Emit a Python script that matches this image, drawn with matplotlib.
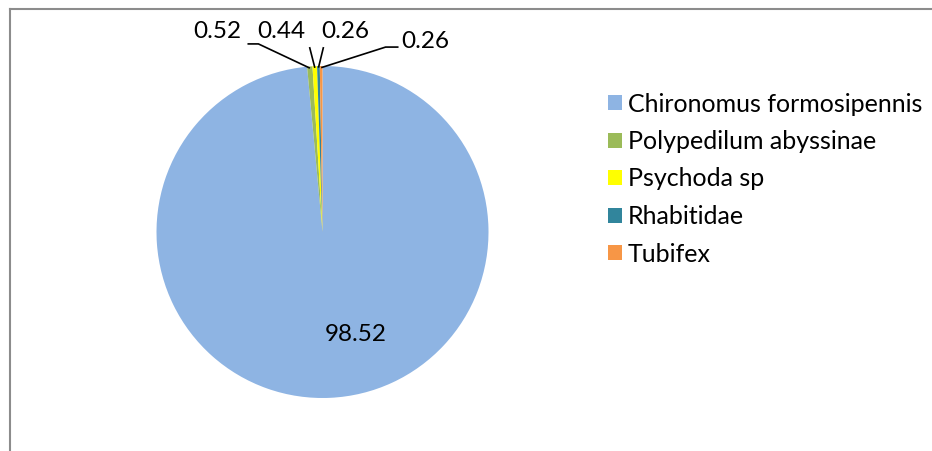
import matplotlib
matplotlib.use("Agg")
import matplotlib.pyplot as plt
import numpy as np
from matplotlib.lines import Line2D

categories = ["Chironomus formosipennis", "Polypedilum abyssinae", "Psychoda sp", "Rhabitidae", "Tubifex"]
values = [98.52, 0.52, 0.44, 0.26, 0.26]
value_labels = ["98.52", "0.52", "0.44", "0.26", "0.26"]
colors = ["#8EB4E3", "#9BBB59", "#FFFF00", "#31859C", "#F79646"]

plt.rcParams['font.family'] = ['Lato', 'DejaVu Sans']
FS = 17.5
LFS = 18

W, H = 932, 451
fig = plt.figure(figsize=(W / 100, H / 100), dpi=100)
fig.patch.set_facecolor("white")

cx, cy, r = 322.5, 232, 166
ax = fig.add_axes([(cx - r) / W, (H - cy - r) / H, 2 * r / W, 2 * r / H])
wedges, _ = ax.pie(values, colors=colors, startangle=90, counterclock=False,
                   radius=1.0, wedgeprops=dict(linewidth=0))
ax.set_xlim(-1, 1)
ax.set_ylim(-1, 1)
ax.set_aspect("equal")
ax.axis("off")

# label text positions (in pie units) and leader line bend points
text_pos = [(0.20, -0.62), (-0.633, 1.205), (-0.247, 1.205), (0.139, 1.205), (0.62, 1.145)]
leader_pts = [None,
              [(-0.452, 1.133), (-0.386, 1.133)],
              [(-0.078, 1.114)],
              [(0.006, 1.114)],
              [(0.458, 1.114), (0.380, 1.114)]]

for i, w in enumerate(wedges):
    ax.text(text_pos[i][0], text_pos[i][1], value_labels[i], ha="center", va="center",
            fontsize=FS, color="black", clip_on=False)
    if leader_pts[i] is not None:
        mid = np.deg2rad((w.theta1 + w.theta2) / 2)
        ex, ey = np.cos(mid) * 0.99, np.sin(mid) * 0.99
        pts = leader_pts[i] + [(ex, ey)]
        xs = [p[0] for p in pts]
        ys = [p[1] for p in pts]
        ax.plot(xs, ys, color="black", lw=1.2, clip_on=False, solid_capstyle="butt")

fs_px = LFS * 100 / 72
leg = fig.legend(wedges, categories, loc="upper left",
                 bbox_to_anchor=(608 / W, 1 - 92.5 / H), frameon=False,
                 fontsize=LFS, handlelength=14 / fs_px, handleheight=14 / fs_px,
                 handletextpad=6 / fs_px, labelspacing=0.58,
                 borderpad=0, borderaxespad=0)

# chart area border (top and left visible)
fig.add_artist(Line2D([9.5 / W, 9.5 / W], [0, 1 - 8.5 / H], transform=fig.transFigure,
                      color="#8c8c8c", lw=1.5))
fig.add_artist(Line2D([9.5 / W, 1], [1 - 8.5 / H, 1 - 8.5 / H], transform=fig.transFigure,
                      color="#8c8c8c", lw=1.5))

fig.savefig("out.png", dpi=100, facecolor="white")
